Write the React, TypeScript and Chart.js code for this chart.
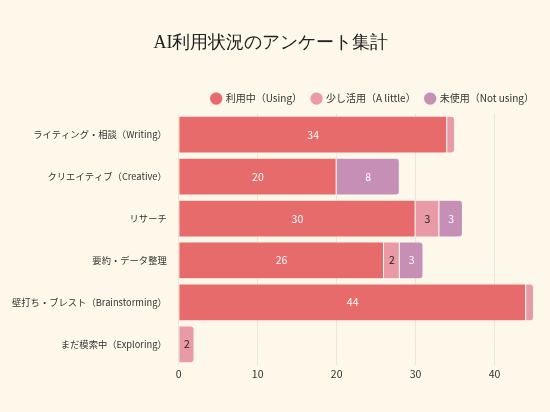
import { useEffect, useRef } from 'react';
import { Chart, registerables, Plugin } from 'chart.js';

Chart.register(...registerables);

const categories = [
  'ライティング・相談（Writing）',
  'クリエイティブ（Creative）',
  'リサーチ',
  '要約・データ整理',
  '壁打ち・ブレスト（Brainstorming）',
  'まだ模索中（Exploring）',
];

const usingValues = [34, 20, 30, 26, 44, 0];
const littleValues = [1, 0, 3, 2, 1, 2];
const notUsingValues = [0, 8, 3, 3, 0, 0];

const seriesNames = ['利用中（Using）', '少し活用（A little）', '未使用（Not using）'];
const seriesColors = ['#e86b6b', '#e89aa6', '#c68fb6'];
const labelColors = ['#ffffff', '#222222', '#ffffff'];

const xTicks = [0, 10, 20, 30, 40];

const FONT = '"Noto Sans CJK JP", sans-serif';

// draws the value in the middle of each segment
const valueLabels: Plugin<'bar'> = {
  id: 'valueLabels',
  afterLayout(chart) {
    // legend sits a little closer to the right edge
    const legend: any = (chart as any).legend;
    if (legend) {
      legend.left += 10;
      legend.right += 10;
    }
  },
  afterDatasetsDraw(chart) {
    const ctx = chart.ctx;
    ctx.save();
    ctx.font = `10.5px ${FONT}`;
    ctx.textAlign = 'center';
    ctx.textBaseline = 'middle';
    chart.data.datasets.forEach((ds, i) => {
      const meta = chart.getDatasetMeta(i);
      meta.data.forEach((bar: any, j) => {
        const v = ds.data[j] as number;
        if (!v) return;
        const w = Math.abs(bar.x - bar.base);
        if (w < 12) return;
        ctx.fillStyle = labelColors[i];
        ctx.fillText(String(v), (bar.x + bar.base) / 2, bar.y);
      });
    });
    ctx.restore();
  },
};

const App = () => {
  const canvasRef = useRef<HTMLCanvasElement>(null);

  useEffect(() => {
    document.body.style.background = '#fdf8ea';
    if (!canvasRef.current) return;
    const values = [usingValues, littleValues, notUsingValues];
    const chart = new Chart(canvasRef.current, {
      type: 'bar',
      data: {
        labels: categories,
        datasets: seriesNames.map((name, i) => ({
          label: name,
          data: values[i],
          backgroundColor: seriesColors[i],
          borderColor: 'rgba(255,255,255,0.35)',
          borderWidth: 1,
          borderRadius: 4,
          borderSkipped: 'start',
          barPercentage: 0.9,
          categoryPercentage: 1,
        })),
      },
      options: {
        indexAxis: 'y',
        animation: false,
        responsive: true,
        maintainAspectRatio: false,
        layout: { padding: { right: 8, bottom: 22, left: 0 } },
        plugins: {
          title: {
            display: true,
            text: 'AI利用状況のアンケート集計',
            color: '#222',
            font: { family: 'serif', size: 18, weight: 'normal' },
            padding: { top: 24, bottom: 30 },
          },
          legend: {
            position: 'top',
            align: 'end',
            labels: {
              usePointStyle: true,
              pointStyle: 'circle',
              boxWidth: 9,
              boxHeight: 9,
              color: '#333',
              font: { family: FONT, size: 10 },
              padding: 10,
            },
          },
          tooltip: { enabled: false },
        },
        scales: {
          x: {
            stacked: true,
            min: 0,
            max: 45,
            afterBuildTicks: (scale) => {
              scale.ticks = xTicks.map((v) => ({ value: v }));
            },
            grid: { color: '#ece6d2', drawTicks: false },
            border: { display: false },
            ticks: { color: '#333', font: { family: FONT, size: 10.5 }, padding: 2 },
          },
          y: {
            stacked: true,
            grid: { display: false },
            border: { display: false },
            ticks: { color: '#333', font: { family: FONT, size: 9.3 }, padding: 4 },
          },
        },
      },
      plugins: [valueLabels],
    });
    return () => chart.destroy();
  }, []);

  return (
    <div style={{ height: 396, position: 'relative' }}>
      <canvas ref={canvasRef} />
    </div>
  );
};

export default App;
